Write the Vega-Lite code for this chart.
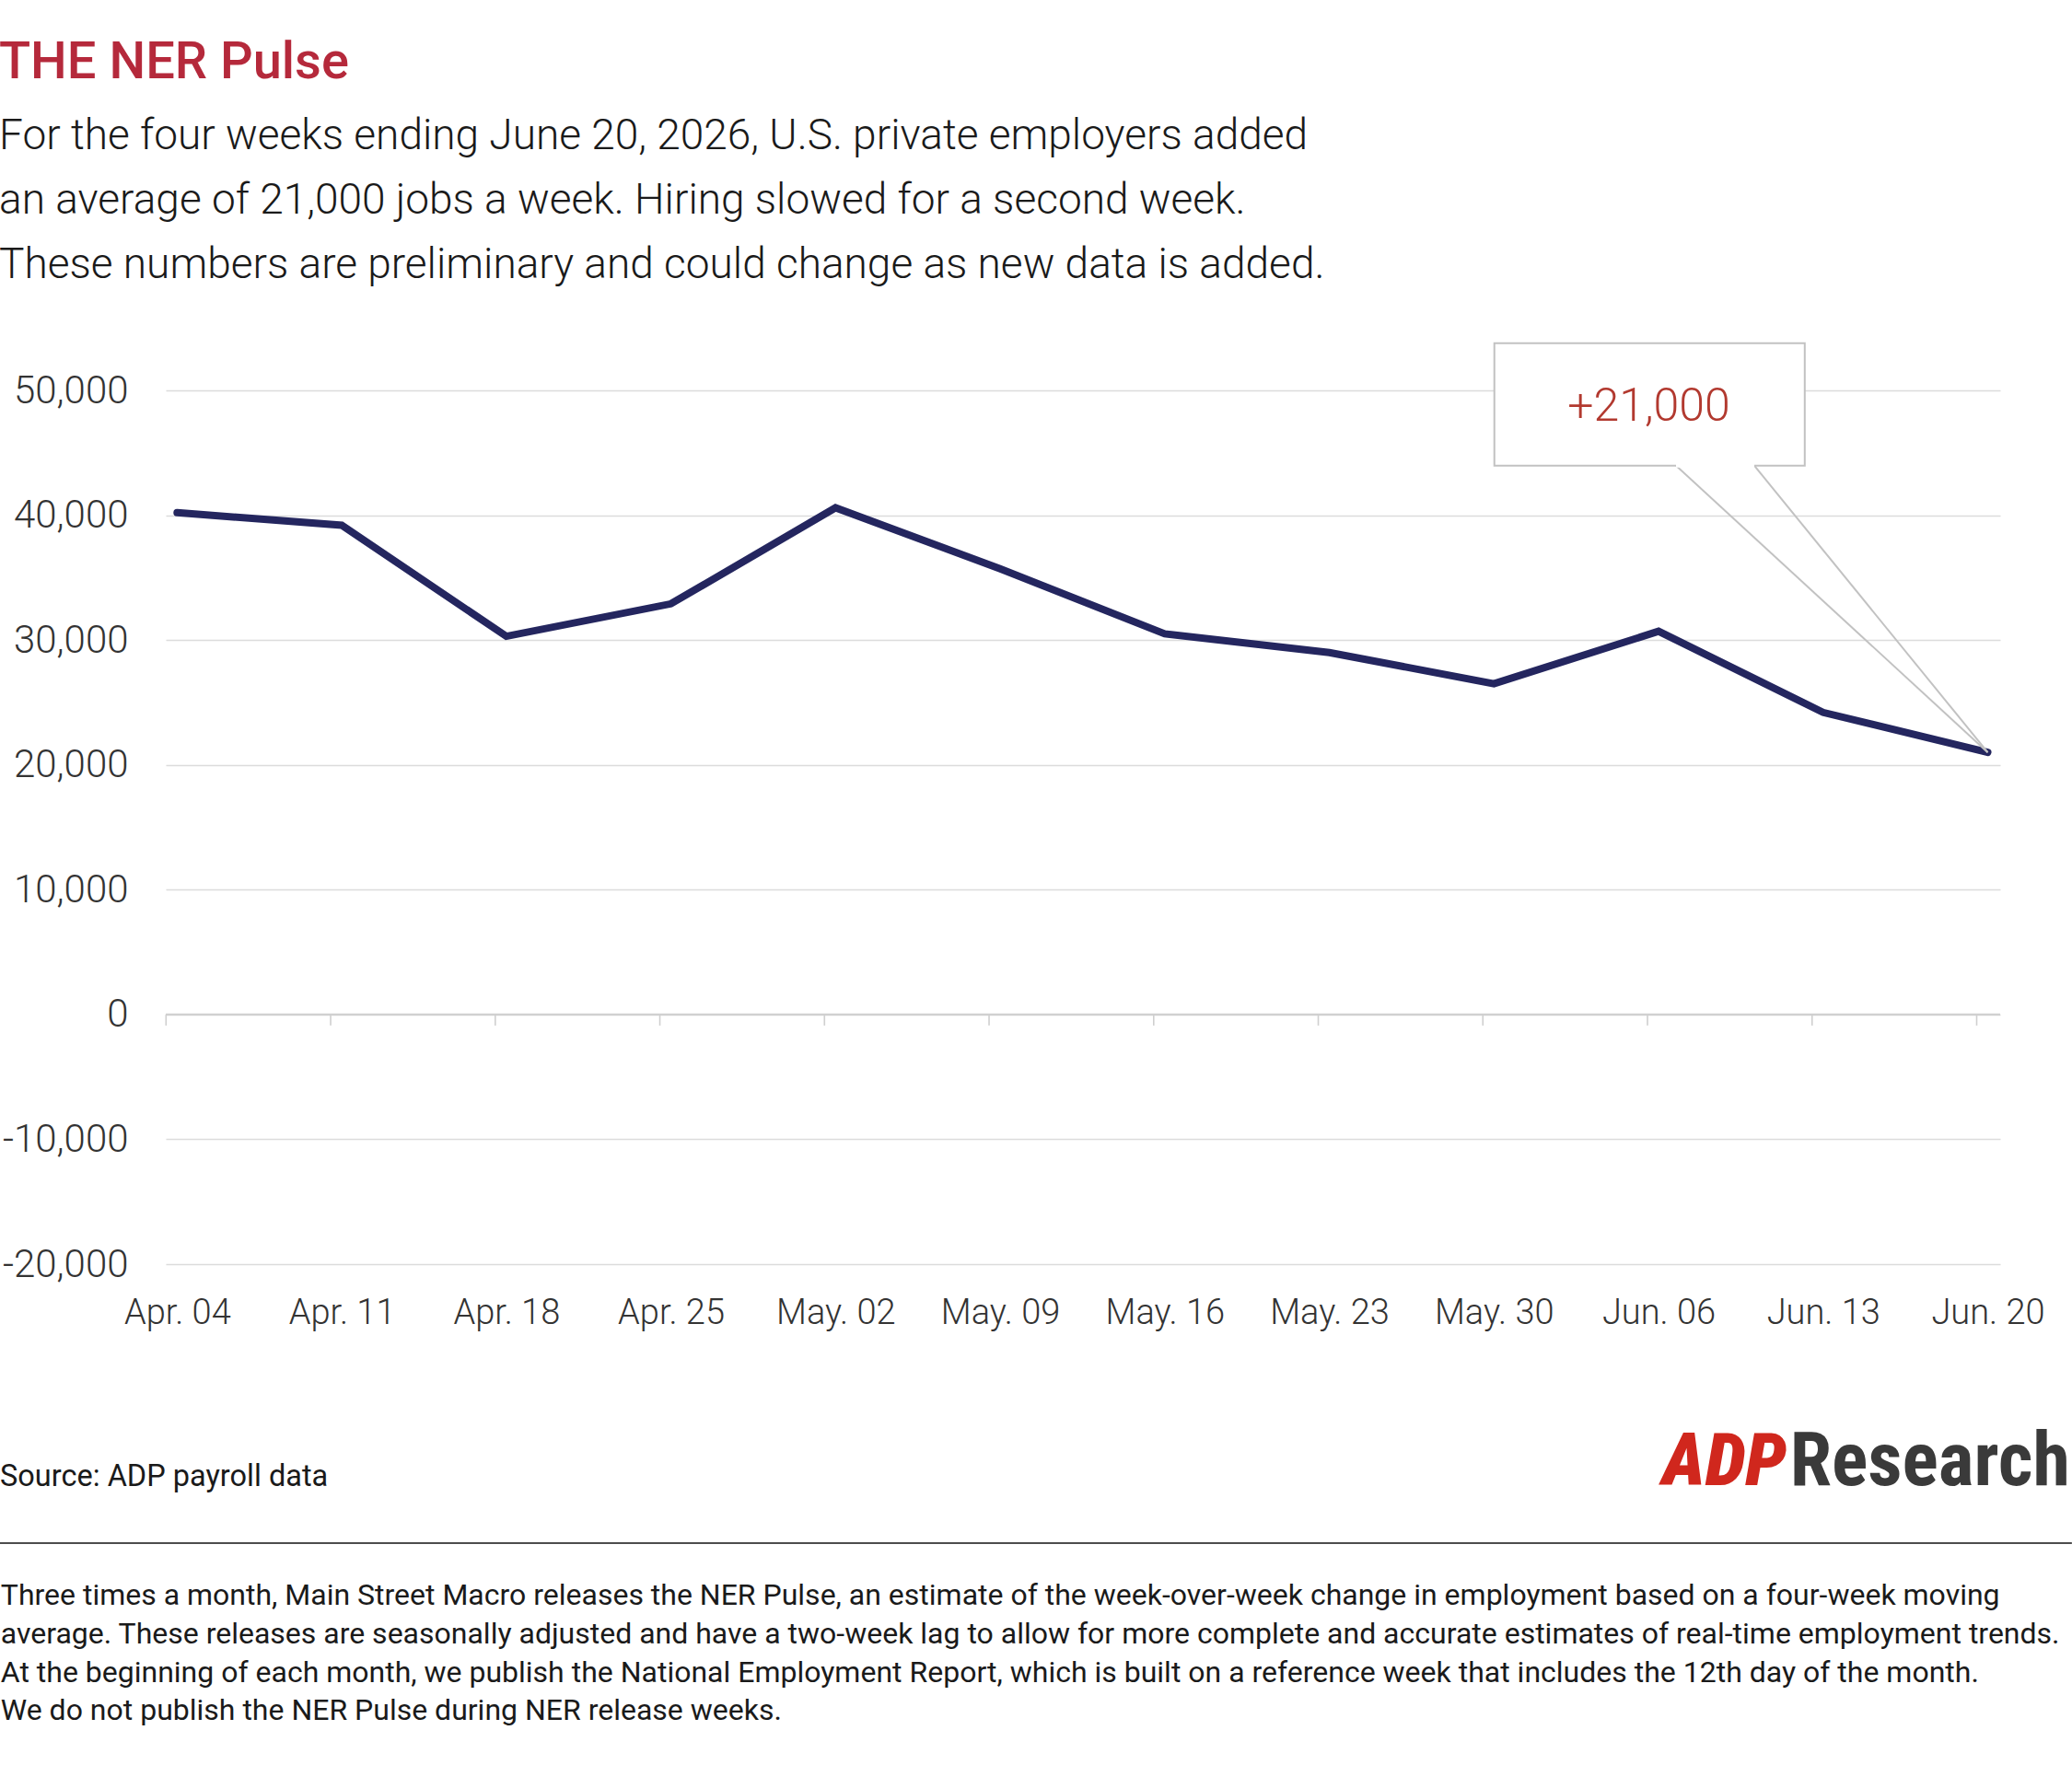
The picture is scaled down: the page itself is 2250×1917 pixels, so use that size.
{
  "$schema": "https://vega.github.io/schema/vega-lite/v6.json",
  "width": 1992,
  "height": 949,
  "autosize": {"type": "none"},
  "padding": {"left": 180, "top": 424, "right": 78, "bottom": 544},
  "background": "white",
  "config": {"view": {"stroke": null}, "font": "Roboto"},
  "title": {
    "text": "THE NER Pulse",
    "subtitle": [
      "For the four weeks ending June 20, 2026, U.S. private employers added",
      "an average of 21,000 jobs a week. Hiring slowed for a second week.",
      "These numbers are preliminary and could change as new data is added."
    ],
    "anchor": "start",
    "frame": "bounds",
    "font": "Roboto",
    "fontSize": 56,
    "fontWeight": 500,
    "color": "#b5293b",
    "subtitleFont": "Roboto",
    "subtitleFontSize": 46,
    "subtitleFontWeight": 300,
    "subtitleColor": "#1a1a1a",
    "subtitleLineHeight": 70,
    "subtitlePadding": 29,
    "offset": 60
  },
  "data": {
    "values": [
      {"week": "2026-04-04", "jobs": 40200},
      {"week": "2026-04-11", "jobs": 39200},
      {"week": "2026-04-18", "jobs": 30300},
      {"week": "2026-04-25", "jobs": 32900},
      {"week": "2026-05-02", "jobs": 40600},
      {"week": "2026-05-09", "jobs": 35700},
      {"week": "2026-05-16", "jobs": 30500},
      {"week": "2026-05-23", "jobs": 29000},
      {"week": "2026-05-30", "jobs": 26500},
      {"week": "2026-06-06", "jobs": 30700},
      {"week": "2026-06-13", "jobs": 24200},
      {"week": "2026-06-20", "jobs": 21000}
    ]
  },
  "layer": [
    {
      "mark": {"type": "line", "color": "#24265f", "strokeWidth": 8, "strokeCap": "round", "strokeJoin": "miter"},
      "encoding": {
        "x": {
          "field": "week",
          "type": "temporal",
          "scale": {
            "type": "utc",
            "domain": [
              {"year": 2026, "month": 4, "date": 3, "hours": 12, "minutes": 26, "utc": true},
              {"year": 2026, "month": 6, "date": 20, "hours": 12, "minutes": 41, "utc": true}
            ]
          },
          "axis": {
            "title": null,
            "values": [
              {"year": 2026, "month": 4, "date": 4, "utc": true},
              {"year": 2026, "month": 4, "date": 11, "utc": true},
              {"year": 2026, "month": 4, "date": 18, "utc": true},
              {"year": 2026, "month": 4, "date": 25, "utc": true},
              {"year": 2026, "month": 5, "date": 2, "utc": true},
              {"year": 2026, "month": 5, "date": 9, "utc": true},
              {"year": 2026, "month": 5, "date": 16, "utc": true},
              {"year": 2026, "month": 5, "date": 23, "utc": true},
              {"year": 2026, "month": 5, "date": 30, "utc": true},
              {"year": 2026, "month": 6, "date": 6, "utc": true},
              {"year": 2026, "month": 6, "date": 13, "utc": true},
              {"year": 2026, "month": 6, "date": 20, "utc": true}
            ],
            "format": "%b. %d",
            "grid": false,
            "domain": false,
            "ticks": false,
            "labelPadding": 34,
            "labelFont": "Roboto",
            "labelFontSize": 38,
            "labelFontWeight": 300,
            "labelColor": "#333333",
            "labelFlush": false,
            "labelOverlap": false
          }
        },
        "y": {
          "field": "jobs",
          "type": "quantitative",
          "scale": {"domain": [-20000, 50000], "nice": false, "zero": false},
          "axis": {
            "title": null,
            "values": [-20000, -10000, 0, 10000, 20000, 30000, 40000, 50000],
            "format": ",d",
            "labelExpr": "replace(datum.label, '\u2212', '-')",
            "grid": true,
            "gridColor": "#dcdcdc",
            "gridWidth": 1.5,
            "domain": false,
            "ticks": false,
            "labelPadding": 41,
            "labelFont": "Roboto",
            "labelFontSize": 42,
            "labelFontWeight": 300,
            "labelColor": "#333333"
          }
        }
      }
    },
    {
      "data": {"values": [{}]},
      "mark": {"type": "rule", "color": "#d0d0d0", "strokeWidth": 2.2},
      "encoding": {"y": {"datum": 0, "type": "quantitative"}}
    },
    {
      "mark": {"type": "tick", "orient": "vertical", "size": 12, "thickness": 1.6, "yOffset": 6, "xOffset": -12, "color": "#cfcfcf", "opacity": 1},
      "encoding": {
        "x": {"field": "week", "type": "temporal"},
        "y": {"datum": 0, "type": "quantitative"}
      }
    },
    {
      "data": {"values": [{}]},
      "mark": {"type": "rule", "color": "#c2c2c2", "strokeWidth": 2},
      "encoding": {
        "x": {"datum": {"year": 2026, "month": 6, "date": 6, "hours": 17, "minutes": 50, "utc": true}, "type": "temporal"},
        "x2": {"datum": {"year": 2026, "month": 6, "date": 20, "utc": true}},
        "y": {"datum": 43974, "type": "quantitative"},
        "y2": {"datum": 21000}
      }
    },
    {
      "data": {"values": [{}]},
      "mark": {"type": "rule", "color": "#c2c2c2", "strokeWidth": 2},
      "encoding": {
        "x": {"datum": {"year": 2026, "month": 6, "date": 10, "hours": 1, "minutes": 44, "utc": true}, "type": "temporal"},
        "x2": {"datum": {"year": 2026, "month": 6, "date": 20, "utc": true}},
        "y": {"datum": 43974, "type": "quantitative"},
        "y2": {"datum": 21000}
      }
    },
    {
      "data": {"values": [{}]},
      "mark": {"type": "rect", "fill": "white", "stroke": "#c2c2c2", "strokeWidth": 2},
      "encoding": {
        "x": {"datum": {"year": 2026, "month": 5, "date": 30, "hours": 0, "minutes": 26, "utc": true}, "type": "temporal"},
        "x2": {"datum": {"year": 2026, "month": 6, "date": 12, "hours": 5, "minutes": 14, "utc": true}},
        "y": {"datum": 53784, "type": "quantitative"},
        "y2": {"datum": 43974}
      }
    },
    {
      "data": {"values": [{}]},
      "mark": {"type": "rule", "color": "white", "strokeWidth": 4},
      "encoding": {
        "x": {"datum": {"year": 2026, "month": 6, "date": 6, "hours": 17, "minutes": 50, "utc": true}, "type": "temporal"},
        "x2": {"datum": {"year": 2026, "month": 6, "date": 10, "hours": 1, "minutes": 44, "utc": true}},
        "y": {"datum": 43974, "type": "quantitative"}
      }
    },
    {
      "data": {"values": [{}]},
      "mark": {"type": "text", "text": "+21,000", "font": "Roboto", "fontSize": 50, "fontWeight": 300, "color": "#b2392f", "align": "center", "baseline": "alphabetic"},
      "encoding": {
        "x": {"datum": {"year": 2026, "month": 6, "date": 5, "hours": 14, "minutes": 8, "utc": true}, "type": "temporal"},
        "y": {"datum": 47566, "type": "quantitative"}
      }
    },
    {
      "data": {"values": [{}]},
      "mark": {"type": "text", "text": "Source: ADP payroll data", "font": "Roboto", "fontSize": 32.5, "color": "#1a1a1a", "align": "left", "baseline": "alphabetic"},
      "encoding": {
        "x": {"datum": {"year": 2026, "month": 3, "date": 27, "hours": 11, "minutes": 15, "utc": true}, "type": "temporal"},
        "y": {"datum": -37774, "type": "quantitative"}
      }
    },
    {
      "data": {"values": [{}]},
      "mark": {"type": "rule", "color": "#4d4d4d", "strokeWidth": 2},
      "encoding": {
        "x": {"datum": {"year": 2026, "month": 3, "date": 27, "hours": 11, "minutes": 15, "utc": true}, "type": "temporal"},
        "x2": {"datum": {"year": 2026, "month": 6, "date": 23, "hours": 13, "minutes": 52, "utc": true}},
        "y": {"datum": -42348, "type": "quantitative"}
      }
    },
    {
      "data": {"values": [{}]},
      "mark": {
        "type": "text",
        "text": [
          "Three times a month, Main Street Macro releases the NER Pulse, an estimate of the week-over-week change in employment based on a four-week moving",
          "average. These releases are seasonally adjusted and have a two-week lag to allow for more complete and accurate estimates of real-time employment trends.",
          "At the beginning of each month, we publish the National Employment Report, which is built on a reference week that includes the 12th day of the month.",
          "We do not publish the NER Pulse during NER release weeks."
        ],
        "font": "Roboto",
        "fontSize": 32,
        "lineHeight": 41.7,
        "color": "#1a1a1a",
        "align": "left",
        "baseline": "alphabetic"
      },
      "encoding": {
        "x": {"datum": {"year": 2026, "month": 3, "date": 27, "hours": 12, "minutes": 0, "utc": true}, "type": "temporal"},
        "y": {"datum": -47312, "type": "quantitative"}
      }
    },
    {
      "data": {"values": [{}]},
      "mark": {"type": "text", "text": "ADP", "font": "Liberation Sans Narrow, Roboto Condensed, Roboto", "fontSize": 80, "fontWeight": 900, "fontStyle": "italic", "color": "#d0271d", "align": "right", "baseline": "alphabetic"},
      "encoding": {
        "x": {"datum": {"year": 2026, "month": 6, "date": 11, "hours": 10, "minutes": 45, "utc": true}, "type": "temporal"},
        "y": {"datum": -37701, "type": "quantitative"}
      }
    },
    {
      "data": {"values": [{}]},
      "mark": {"type": "text", "text": "Research", "font": "Liberation Sans Narrow, Roboto Condensed, Roboto", "fontSize": 82, "fontWeight": "bold", "color": "#3a3a3a", "align": "right", "baseline": "alphabetic"},
      "encoding": {
        "x": {"datum": {"year": 2026, "month": 6, "date": 23, "hours": 12, "minutes": 0, "utc": true}, "type": "temporal"},
        "y": {"datum": -37701, "type": "quantitative"}
      }
    }
  ]
}
